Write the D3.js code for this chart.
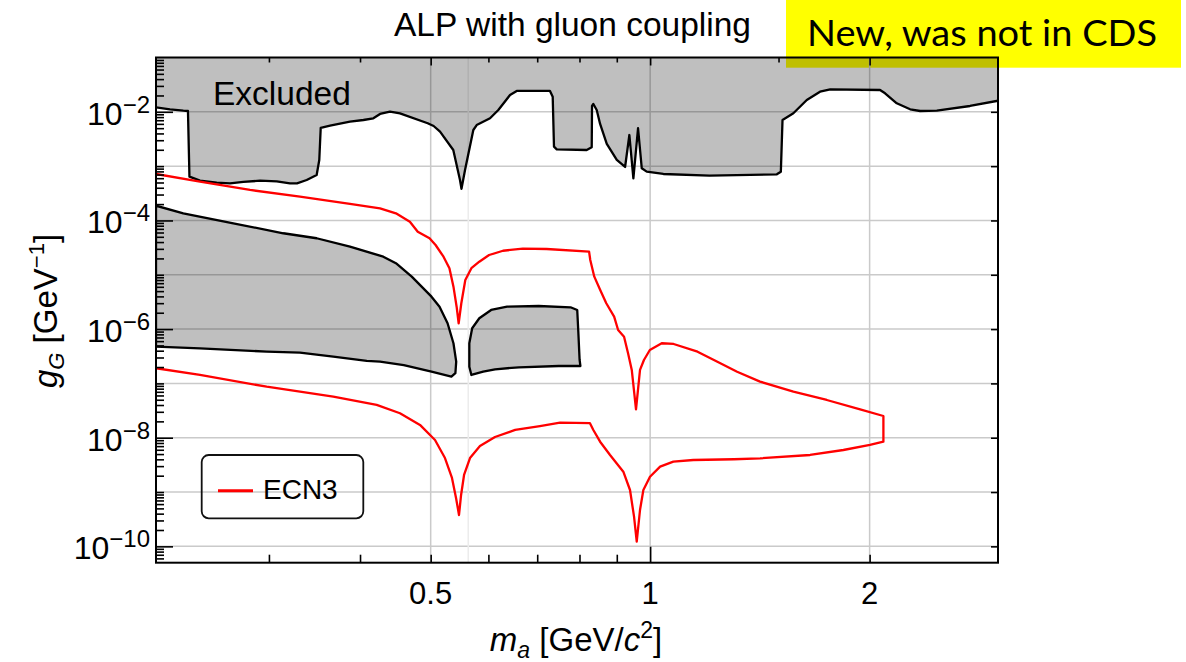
<!DOCTYPE html>
<html>
<head>
<meta charset="utf-8">
<script src="https://cdn.jsdelivr.net/npm/d3@7"></script>
<style>
  body { margin: 0; background: #fff; }
  svg { display: block; }
  text { font-family: "Liberation Sans", Arial, Helvetica, sans-serif; fill: #000; }
</style>
</head>
<body>
<svg id="chart" width="1186" height="662"></svg>
<script>
// ---- axis domains and ticks ----
const massDomain = [0.21, 3];              // m_a [GeV/c^2]
const couplingDomain = [5e-11, 0.1];       // g_G [GeV^-1]
const massTicksBottom = [0.3, 0.4, 0.5, 0.6, 0.7, 0.8, 0.9, 1, 2];
const massTicksTop = [0.3, 0.4, 0.5, 0.6, 0.7, 0.8, 0.9, 1, 1.5, 2];
const massTickLabels = [0.5, 1, 2];
const massGridLines = [0.5, 1, 2];
const couplingDecadeExps = [-10, -9, -8, -7, -6, -5, -4, -3, -2];
const couplingLabelExps = [-10, -8, -6, -4, -2];

// ---- excluded region (upper boundary; filled up to the top of the frame) ----
const excludedMass = [0.21, 0.2195, 0.2289, 0.2323, 0.2334, 0.2413, 0.2544, 0.2653, 0.2767, 0.2917,
  0.3075, 0.3206, 0.3278, 0.338, 0.3488, 0.3517, 0.3533, 0.3639, 0.3875, 0.4043, 0.4172, 0.4261,
  0.4397, 0.4538, 0.4953, 0.5047, 0.515, 0.537, 0.5485, 0.5511, 0.5573, 0.5721, 0.5782, 0.6031,
  0.6191, 0.6424, 0.6561, 0.7288, 0.7351, 0.7381, 0.7445, 0.8184, 0.8315, 0.8323, 0.8358, 0.8447,
  0.8538, 0.872, 0.9, 0.9239, 0.9365, 0.9484, 0.9625, 0.9739, 0.9892, 1.0426, 1.206, 1.492, 1.511,
  1.519, 1.572, 1.64, 1.71, 1.766, 2.067, 2.1, 2.179, 2.273, 2.346, 2.473, 2.746, 3.0];
const excludedCoupling = [1.21e-2, 1.11e-2, 1.05e-2, 1.035e-2, 6.39e-4, 5.40e-4, 4.96e-4, 4.83e-4,
  5.11e-4, 5.40e-4, 5.26e-4, 4.83e-4, 4.83e-4, 5.56e-4, 6.87e-4, 1.30e-3, 5.04e-3, 5.55e-3, 6.58e-3,
  7.07e-3, 7.60e-3, 9.12e-3, 1.005e-2, 9.39e-3, 6.15e-3, 5.48e-3, 4.31e-3, 1.98e-3, 5.56e-4, 3.83e-4,
  8.49e-4, 4.63e-3, 5.71e-3, 7.60e-3, 1.08e-2, 2.04e-2, 2.42e-2, 2.42e-2, 1.90e-2, 2.28e-3, 2.04e-3,
  1.98e-3, 2.22e-3, 1.28e-2, 1.393e-2, 1.08e-2, 5.97e-3, 2.56e-3, 1.30e-3, 9.64e-4, 3.74e-3, 5.97e-4,
  4.98e-3, 9.12e-4, 7.91e-4, 7.17e-4, 6.67e-4, 7.08e-4, 7.91e-4, 7.07e-3, 9.39e-3, 1.65e-2, 2.346e-2,
  2.60e-2, 2.52e-2, 2.19e-2, 1.435e-2, 1.113e-2, 1.035e-2, 1.05e-2, 1.28e-2, 1.6e-2];

// ---- lower excluded region (closed outline) ----
const lowerMass = [0.21, 0.2289, 0.2681, 0.3139, 0.3488, 0.3875, 0.4305, 0.448, 0.471, 0.5013, 0.5142,
  0.5274, 0.5373, 0.542, 0.5406, 0.5338, 0.5013, 0.4593, 0.4261, 0.4086, 0.3676, 0.3309, 0.2979,
  0.2413, 0.21];
const lowerCoupling = [1.87e-4, 1.355e-4, 8.87e-5, 5.81e-5, 4.70e-5, 3.29e-5, 2.15e-5, 1.63e-5,
  9.23e-6, 3.95e-6, 2.58e-6, 1.28e-6, 5.48e-7, 2.51e-7, 1.54e-7, 1.33e-7, 1.64e-7, 2.18e-7, 2.51e-7,
  2.59e-7, 3.10e-7, 3.68e-7, 3.84e-7, 4.43e-7, 4.74e-7];

// ---- island region above the eta dip (closed outline) ----
const islandMass = [0.5686, 0.5649, 0.5649, 0.57, 0.583, 0.6052, 0.6364, 0.7032, 0.7777, 0.7943,
  0.7972, 0.8003, 0.8023, 0.7491, 0.6607, 0.6127, 0.5902];
const islandCoupling = [1.43e-7, 2.03e-7, 5.48e-7, 1.035e-6, 1.58e-6, 2.25e-6, 2.58e-6, 2.66e-6,
  2.52e-6, 2.25e-6, 8.38e-7, 2.70e-7, 2.09e-7, 2.09e-7, 1.98e-7, 1.82e-7, 1.64e-7];

// ---- ECN3 sensitivity contour ----
const ecn3Mass = [0.21, 0.2413, 0.2826, 0.3309, 0.3875, 0.4261, 0.448, 0.4682, 0.48, 0.4982, 0.5078,
  0.5207, 0.5305, 0.5373, 0.5427, 0.5462, 0.5508, 0.5578, 0.5686, 0.583, 0.6013, 0.6283, 0.6689,
  0.7211, 0.8246, 0.8277, 0.8383, 0.8541, 0.8706, 0.8925, 0.9038, 0.9209, 0.9326, 0.9436, 0.9563,
  0.9685, 0.9806, 0.999, 1.0373, 1.077, 1.1614, 1.2366, 1.316, 1.415, 1.572, 1.747, 1.941, 2.089,
  2.089, 2.002, 1.841, 1.657, 1.415, 1.303, 1.146, 1.076, 1.032, 0.9995, 0.9788, 0.9685, 0.9585,
  0.9504, 0.9384, 0.9188, 0.881, 0.8538, 0.8358, 0.8269, 0.7524, 0.706, 0.6529, 0.6126, 0.5842,
  0.5661, 0.5556, 0.5504, 0.5468, 0.5417, 0.5348, 0.5231, 0.5069, 0.4834, 0.4538, 0.4216, 0.3676,
  0.2979, 0.2413, 0.21];
const ecn3Coupling = [7.17e-4, 5.18e-4, 3.64e-4, 2.74e-4, 2.01e-4, 1.67e-4, 1.355e-4, 9.49e-5, 6.21e-5,
  4.70e-5, 3.53e-5, 2.15e-5, 1.32e-5, 6.04e-6, 2.58e-6, 1.28e-6, 2.99e-6, 8.02e-6, 1.32e-5, 1.74e-5,
  2.31e-5, 2.77e-5, 3.02e-5, 2.98e-5, 2.66e-5, 1.87e-5, 9.23e-6, 5.25e-6, 2.99e-6, 1.69e-6, 9.62e-7,
  7.24e-7, 3.58e-7, 1.77e-7, 3.34e-8, 1.77e-7, 2.70e-7, 4.12e-7, 5.48e-7, 5.32e-7, 3.84e-7, 2.51e-7,
  1.64e-7, 1.08e-7, 7.03e-8, 4.95e-8, 3.34e-8, 2.51e-8, 8.45e-9, 7.35e-9, 5.94e-9, 4.81e-9, 4.18e-9,
  4.01e-9, 3.89e-9, 3.62e-9, 2.93e-9, 1.91e-9, 1.09e-9, 4.67e-10, 1.22e-10, 3.52e-10, 1.09e-9,
  2.37e-9, 4.81e-9, 8.45e-9, 1.39e-8, 1.85e-8, 1.89e-8, 1.64e-8, 1.39e-8, 1.03e-8, 7.03e-9, 4.23e-9,
  2.06e-9, 8.83e-10, 3.78e-10, 7.77e-10, 1.82e-9, 4.23e-9, 9.08e-9, 1.72e-8, 2.82e-8, 4.01e-8,
  5.69e-8, 8.69e-8, 1.43e-7, 1.90e-7];

// ---- layout ----
const plot = { left: 156, right: 998, top: 57.5, bottom: 562.7 };
const svg = d3.select("#chart");

const x = d3.scaleLog().domain(massDomain).range([plot.left, plot.right]);
const y = d3.scaleLog().domain(couplingDomain).range([plot.bottom, plot.top]);

// note box behind the figure
svg.append("rect").attr("x", 786).attr("y", 0).attr("width", 395).attr("height", 67.7)
  .attr("fill", "#ffff00");
svg.append("text").attr("x", 807).attr("y", 46)
  .attr("font-size", 36)
  .attr("textLength", 350).attr("lengthAdjust", "spacingAndGlyphs")
  .style("font-family", "Lato, 'Open Sans', sans-serif")
  .text("New, was not in CDS");

// title
svg.append("text").attr("x", 394).attr("y", 36).attr("font-size", 33.5)
  .text("ALP with gluon coupling");

// clip for plot area
svg.append("defs").append("clipPath").attr("id", "plotClip")
  .append("rect").attr("x", plot.left).attr("y", plot.top)
  .attr("width", plot.right - plot.left).attr("height", plot.bottom - plot.top);

// grid
const grid = svg.append("g");
grid.selectAll("line.h").data(couplingDecadeExps).join("line")
  .attr("x1", plot.left).attr("x2", plot.right)
  .attr("y1", d => y(Math.pow(10, d))).attr("y2", d => y(Math.pow(10, d)))
  .attr("stroke", "#cacaca").attr("stroke-width", 1.5);
grid.selectAll("line.v").data(massGridLines).join("line")
  .attr("y1", plot.top).attr("y2", plot.bottom)
  .attr("x1", d => x(d)).attr("x2", d => x(d))
  .attr("stroke", "#cacaca").attr("stroke-width", 1.5);
grid.append("line").attr("y1", plot.top).attr("y2", plot.bottom)
  .attr("x1", x(0.563)).attr("x2", x(0.563))
  .attr("stroke", "#ececec").attr("stroke-width", 1.5);

const layer = svg.append("g").attr("clip-path", "url(#plotClip)");
const fillShade = "rgba(0,0,0,0.25)";

const toPts = (ms, gs) => d3.zip(ms, gs);
const line = d3.line().x(d => x(d[0])).y(d => y(d[1]));

// upper excluded band
const excludedPts = toPts(excludedMass, excludedCoupling);
layer.append("path").datum(excludedPts)
  .attr("d", d3.area().x(d => x(d[0])).y0(y(couplingDomain[1])).y1(d => y(d[1])))
  .attr("fill", fillShade);
layer.append("path").datum(excludedPts).attr("d", line)
  .attr("fill", "none").attr("stroke", "#000").attr("stroke-width", 2.3)
  .attr("stroke-linejoin", "round");

// lower excluded region and island
[[lowerMass, lowerCoupling], [islandMass, islandCoupling]].forEach(([ms, gs]) => {
  layer.append("path").datum(toPts(ms, gs)).attr("d", d => line(d) + "Z")
    .attr("fill", fillShade).attr("stroke", "#000").attr("stroke-width", 2.3)
    .attr("stroke-linejoin", "round");
});

// ECN3 contour
layer.append("path").datum(toPts(ecn3Mass, ecn3Coupling)).attr("d", line)
  .attr("fill", "none").attr("stroke", "#ff0000").attr("stroke-width", 2.3)
  .attr("stroke-linejoin", "round");

// frame
svg.append("rect").attr("x", plot.left).attr("y", plot.top)
  .attr("width", plot.right - plot.left).attr("height", plot.bottom - plot.top)
  .attr("fill", "none").attr("stroke", "#000").attr("stroke-width", 2);

// ---- axes (inward ticks) ----
const tickStroke = g => {
  g.select(".domain").remove();
  g.selectAll(".tick line").attr("stroke", "#000").attr("stroke-width", 1.6);
  g.selectAll(".tick text").remove();
};
svg.append("g").attr("transform", `translate(0,${plot.bottom})`)
  .call(d3.axisBottom(x).tickValues(massTicksBottom).tickSizeOuter(0))
  .call(tickStroke)
  .call(g => g.selectAll(".tick line").attr("y2", d => d === 1 ? -16 : -8));
svg.append("g").attr("transform", `translate(0,${plot.top})`)
  .call(d3.axisTop(x).tickValues(massTicksTop).tickSizeOuter(0))
  .call(tickStroke)
  .call(g => g.selectAll(".tick line").attr("y2", d => [0.5, 1, 2].includes(d) ? 8 : 5));

// left axis: decades plus 2..9 minor ticks
const minorCoupling = [];
for (let e = -11; e <= -2; e++) {
  for (let k = 2; k <= 9; k++) {
    const v = k * Math.pow(10, e);
    if (v > couplingDomain[0] * 1.01 && v < couplingDomain[1] * 0.99) minorCoupling.push(v);
  }
}
const decadeVals = couplingDecadeExps.map(e => Math.pow(10, e));
const labelVals = couplingLabelExps.map(e => Math.pow(10, e));
svg.append("g").attr("transform", `translate(${plot.left},0)`)
  .call(d3.axisLeft(y).tickValues(decadeVals.concat(minorCoupling)).tickSizeOuter(0))
  .call(tickStroke)
  .call(g => g.selectAll(".tick line").attr("x2", d =>
    labelVals.some(v => Math.abs(v / d - 1) < 1e-6) ? 17 : 8));
svg.append("g").attr("transform", `translate(${plot.right},0)`)
  .call(d3.axisRight(y).tickValues(decadeVals).tickSizeOuter(0))
  .call(tickStroke)
  .call(g => g.selectAll(".tick line").attr("x2", -7));

// tick labels
svg.append("g").selectAll("text").data(massTickLabels).join("text")
  .attr("x", d => x(d)).attr("y", 604).attr("text-anchor", "middle")
  .attr("font-size", 31).text(d => d3.format("")(d));

const yl = svg.append("g");
couplingLabelExps.forEach(e => {
  const t = yl.append("text").attr("x", 150).attr("y", y(Math.pow(10, e)) + 13)
    .attr("text-anchor", "end").attr("font-size", 32);
  t.append("tspan").text("10");
  t.append("tspan").attr("dy", -12).attr("font-size", 24).text("\u2212" + (-e));
});

// axis titles
const xt = svg.append("text").attr("x", 576).attr("y", 651).attr("text-anchor", "middle")
  .attr("font-size", 33);
xt.append("tspan").attr("font-style", "italic").text("m");
xt.append("tspan").attr("font-style", "italic").attr("font-size", 23).attr("dy", 7).text("a");
xt.append("tspan").attr("dy", -7).text(" [GeV/");
xt.append("tspan").attr("font-style", "italic").text("c");
xt.append("tspan").attr("font-size", 23).attr("dy", -13).text("2");
xt.append("tspan").attr("dy", 13).text("]");

const ytl = svg.append("text").attr("transform", "translate(57,311) rotate(-90)")
  .attr("text-anchor", "middle").attr("font-size", 33);
ytl.append("tspan").attr("font-style", "italic").text("g");
ytl.append("tspan").attr("font-style", "italic").attr("font-size", 22).attr("dy", 7).text("G");
ytl.append("tspan").attr("dy", -7).text(" [GeV");
ytl.append("tspan").attr("font-size", 22).attr("dy", -13).text("\u22121");
ytl.append("tspan").attr("dy", 13).text("]");

// region label
svg.append("text").attr("x", 213).attr("y", 105).attr("font-size", 33.5).text("Excluded");

// legend
const lg = svg.append("g");
lg.append("rect").attr("x", 201.7).attr("y", 455).attr("width", 161.6).attr("height", 63.3)
  .attr("rx", 7).attr("fill", "none").attr("stroke", "#111").attr("stroke-width", 1.8);
lg.append("line").attr("x1", 218).attr("x2", 253).attr("y1", 490.7).attr("y2", 490.7)
  .attr("stroke", "#ff0000").attr("stroke-width", 3);
lg.append("text").attr("x", 263).attr("y", 499).attr("font-size", 28).text("ECN3");
</script>
</body>
</html>
